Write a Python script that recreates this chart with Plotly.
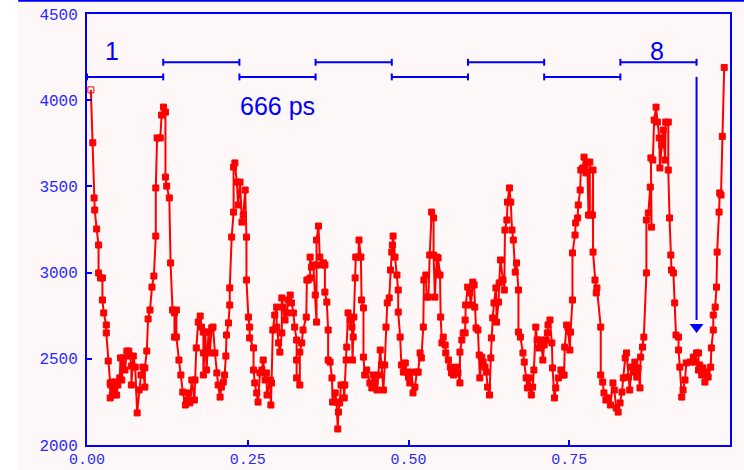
import plotly.graph_objects as go

# ---- data (normalised time, counts) ----
x_vals = [
 0.006,0.009,0.011,0.012,0.015,0.018,0.018,0.021,0.024,0.024,0.026,0.030,0.030,0.033,0.036,0.036,0.037,0.040,0.040,0.042,
 0.044,0.046,0.048,0.051,0.052,0.054,0.056,0.059,0.062,0.065,0.067,0.069,0.069,0.072,0.075,0.078,0.081,0.084,0.087,0.090,
 0.090,0.093,0.095,0.098,0.101,0.104,0.107,0.107,0.109,0.114,0.116,0.119,0.122,0.122,0.124,0.128,0.130,0.133,0.136,0.136,
 0.139,0.139,0.143,0.146,0.149,0.153,0.155,0.158,0.160,0.163,0.167,0.168,0.170,0.173,0.176,0.178,0.181,0.181,0.181,0.184,
 0.186,0.189,0.191,0.194,0.196,0.199,0.202,0.204,0.207,0.209,0.212,0.214,0.216,0.217,0.220,0.222,0.222,0.225,0.228,0.228,
 0.230,0.233,0.235,0.238,0.241,0.243,0.246,0.248,0.248,0.251,0.253,0.253,0.259,0.259,0.261,0.264,0.266,0.269,0.272,0.274,
 0.277,0.279,0.280,0.285,0.286,0.287,0.289,0.292,0.295,0.295,0.298,0.300,0.303,0.303,0.305,0.308,0.311,0.313,0.316,0.318,
 0.321,0.323,0.326,0.326,0.326,0.331,0.331,0.334,0.336,0.341,0.342,0.344,0.347,0.347,0.349,0.352,0.355,0.357,0.357,0.357,
 0.360,0.362,0.365,0.368,0.370,0.370,0.373,0.375,0.375,0.378,0.381,0.382,0.386,0.388,0.390,0.391,0.393,0.395,0.399,0.400,
 0.401,0.403,0.404,0.406,0.409,0.412,0.413,0.414,0.415,0.417,0.418,0.422,0.423,0.426,0.427,0.430,0.430,0.432,0.435,0.440,
 0.443,0.445,0.448,0.451,0.453,0.456,0.458,0.461,0.463,0.465,0.467,0.470,0.472,0.474,0.475,0.476,0.479,0.482,0.484,0.484,
 0.487,0.489,0.492,0.495,0.497,0.500,0.502,0.505,0.507,0.510,0.513,0.515,0.518,0.520,0.523,0.524,0.527,0.528,0.531,0.533,
 0.536,0.539,0.539,0.541,0.544,0.545,0.546,0.549,0.550,0.552,0.554,0.557,0.558,0.562,0.565,0.567,0.570,0.572,0.575,0.577,
 0.580,0.580,0.583,0.585,0.588,0.588,0.589,0.592,0.595,0.597,0.600,0.602,0.603,0.605,0.608,0.610,0.611,0.614,0.616,0.619,
 0.621,0.623,0.626,0.628,0.629,0.631,0.633,0.636,0.637,0.640,0.641,0.643,0.647,0.649,0.650,0.653,0.654,0.657,0.659,0.661,
 0.663,0.666,0.668,0.671,0.671,0.674,0.678,0.680,0.683,0.685,0.688,0.691,0.693,0.695,0.698,0.700,0.703,0.706,0.709,0.711,
 0.714,0.716,0.717,0.720,0.723,0.724,0.727,0.729,0.733,0.737,0.740,0.742,0.743,0.746,0.748,0.751,0.752,0.755,0.755,0.759,
 0.760,0.763,0.764,0.767,0.768,0.771,0.773,0.776,0.778,0.780,0.782,0.782,0.786,0.787,0.787,0.790,0.792,0.793,0.799,0.799,
 0.802,0.804,0.807,0.811,0.814,0.818,0.820,0.823,0.826,0.829,0.832,0.834,0.837,0.839,0.842,0.844,0.847,0.850,0.852,0.855,
 0.857,0.860,0.861,0.864,0.866,0.870,0.870,0.873,0.876,0.878,0.877,0.880,0.882,0.885,0.887,0.890,0.891,0.894,0.896,0.899,
 0.900,0.904,0.904,0.906,0.908,0.909,0.912,0.914,0.916,0.920,0.920,0.922,0.925,0.927,0.930,0.932,0.938,0.943,0.946,0.948,
 0.951,0.951,0.953,0.956,0.958,0.961,0.964,0.966,0.970,0.971,0.974,0.974,0.977,0.979,0.980,0.983,0.984,0.986,0.988,0.991,
]
y_vals = [
 4060,3753,3433,3363,3253,3160,2998,2969,2969,2841,2766,2696,2650,2487,2360,2273,2348,2290,2365,2319,
 2365,2290,2348,2389,2505,2377,2505,2435,2545,2545,2516,2458,2348,2516,2452,2186,2319,2406,2452,2336,
 2447,2545,2731,2783,2916,2980,3212,3491,3781,3781,3914,3960,3931,3554,3502,3433,3056,2783,2766,2626,
 2783,2626,2493,2406,2307,2232,2261,2302,2244,2377,2261,2377,2563,2713,2748,2684,2655,2534,2406,2655,
 2435,2655,2534,2679,2684,2534,2418,2348,2278,2336,2365,2406,2516,2638,2708,2812,2911,3206,3351,3612,
 3636,3525,3392,3525,3293,3334,3479,3206,2957,2742,2684,2621,2563,2435,2360,2302,2249,2418,2435,2493,
 2377,2418,2290,2377,2232,2360,2667,2754,2800,2684,2592,2539,2650,2853,2800,2725,2766,2841,2870,2824,
 2766,2684,2609,2493,2389,2348,2539,2592,2667,2742,2957,2957,2969,3090,3032,3044,2870,2713,3044,3189,
 3270,3090,3044,3056,3044,2887,2829,2667,2493,2481,2389,2249,2302,2249,2093,2191,2244,2348,2348,2273,
 2348,2493,2568,2766,2725,2684,2493,2626,2742,2969,3090,3090,3189,3090,2841,2795,2510,2406,2435,2360,
 2331,2406,2365,2319,2406,2551,2464,2319,2464,2684,2824,2853,3015,3119,3160,3212,3090,2986,2899,2771,
 2626,2464,2423,2476,2423,2394,2360,2423,2302,2336,2423,2423,2534,2505,2684,2957,2986,2858,2858,3102,
 3351,3317,3102,2858,3090,2998,3085,2986,2742,2592,2626,2580,2534,2493,2452,2418,2406,2435,2452,2418,
 2360,2539,2609,2650,2650,2725,2812,2916,2882,2812,2945,2928,2800,2679,2667,2522,2389,2510,2481,2452,
 2423,2336,2290,2505,2621,2737,2824,2911,2713,2829,2940,3073,2957,2899,3247,3305,3409,3491,3409,3247,
 3189,3003,3056,2899,2655,2626,2534,2481,2389,2331,2389,2290,2336,2435,2684,2609,2563,2609,2493,2580,
 2609,2650,2696,2725,2592,2447,2273,2331,2389,2435,2406,2406,2568,2696,2679,2551,2655,2841,3114,3218,
 3288,3317,3392,3479,3595,3607,3670,3578,3641,3334,3641,3334,3334,3595,3119,2957,2882,2911,2684,2406,
 2365,2302,2261,2273,2232,2360,2319,2215,2191,2244,2307,2389,2505,2534,2394,2319,2452,2423,2481,2394,
 2447,2331,2510,2568,2626,2998,3305,3346,3496,3264,3665,3653,3885,3960,3873,3781,3607,3740,3827,3653,
 3873,3873,3595,3317,3102,3015,2998,2824,2638,2626,2551,2452,2278,2319,2377,2476,2481,2510,2481,2534,
 2534,2435,2464,2406,2447,2365,2423,2394,2452,2563,2667,2754,2800,2916,3119,3351,3462,3450,3790,4190,
]

x_ticks = [0, 0.25, 0.5, 0.75, 1.0]
x_tick_labels = ["0.00", "0.25", "0.50", "0.75", "1.00"]
y_ticks = [2000, 2500, 3000, 3500, 4000, 4500]
y_tick_labels = ["2000", "2500", "3000", "3500", "4000", "4500"]

# period brackets (8 periods of 666 ps)
period_edges = [0.0, 0.1185, 0.237, 0.3555, 0.474, 0.5925, 0.711, 0.8295, 0.948]
bracket_levels = [4135, 4220]
arrow_tip = 2685
label_first = "1"
label_last = "8"
label_period = "666 ps"

BLUE = "#0000ff"
RED = "#ff0000"
BG = "#fdf8f7"

fig = go.Figure()

symbols = ["square-open"] + ["square"] * (len(x_vals) - 1)
fig.add_trace(go.Scatter(
    x=x_vals, y=y_vals, mode="lines+markers",
    line=dict(color=RED, width=2),
    marker=dict(symbol=symbols, size=6, color=RED, line=dict(color=RED, width=1)),
    showlegend=False, hoverinfo="skip",
))

shapes = []
cap = 20
for i in range(8):
    lvl = bracket_levels[i % 2]
    a, b = period_edges[i], period_edges[i + 1]
    shapes.append(dict(type="line", xref="x", yref="y", x0=a, x1=b, y0=lvl, y1=lvl,
                       line=dict(color=BLUE, width=2)))
    for e in (a, b):
        shapes.append(dict(type="line", xref="x", yref="y", x0=e, x1=e, y0=lvl - cap, y1=lvl + cap,
                           line=dict(color=BLUE, width=2)))

# arrow from end of period 8 down to the trace
shapes.append(dict(type="line", xref="x", yref="y", x0=period_edges[-1], x1=period_edges[-1],
                   y0=bracket_levels[0], y1=arrow_tip + 40, line=dict(color=BLUE, width=2)))
fig.add_trace(go.Scatter(x=[period_edges[-1]], y=[arrow_tip], mode="markers",
                         marker=dict(symbol="triangle-down", size=12, color=BLUE),
                         showlegend=False, hoverinfo="skip"))

# left white strip and top border line of the original picture
shapes.append(dict(type="rect", xref="paper", yref="paper", x0=-0.2, x1=-0.107, y0=-0.1, y1=1.1,
                   fillcolor="white", line=dict(width=0), layer="below"))
shapes.append(dict(type="line", xref="paper", yref="paper", x0=-0.107, x1=1.05, y0=1.031, y1=1.031,
                   line=dict(color=BLUE, width=2)))

fig.update_layout(shapes=shapes)

font_txt = dict(family="Liberation Sans, Arial, sans-serif", size=25, color=BLUE)
fig.add_annotation(x=0.039, y=4285, text=label_first, showarrow=False, font=font_txt)
fig.add_annotation(x=0.886, y=4285, text=label_last, showarrow=False, font=font_txt)
fig.add_annotation(x=0.297, y=3966, text=label_period, showarrow=False, font=font_txt)

x_tick_font = dict(family="Liberation Mono, DejaVu Sans Mono, monospace", size=15, color="#2a2aff")
y_tick_font = dict(family="Liberation Mono, DejaVu Sans Mono, monospace", size=16, color="#2a2aff")
fig.update_xaxes(range=[0, 1], tickvals=x_ticks, ticktext=x_tick_labels, showgrid=False, zeroline=False,
                 showline=True, linecolor=BLUE, linewidth=2, mirror=True, automargin=False,
                 ticks="inside", ticklen=5, tickwidth=2, tickcolor=BLUE, tickfont=x_tick_font,
                 ticklabelstandoff=-1)
fig.update_yaxes(range=[2000, 4500], tickvals=y_ticks, ticktext=y_tick_labels, showgrid=False, zeroline=False,
                 showline=True, linecolor=BLUE, linewidth=2, mirror=True, automargin=False,
                 ticks="inside", ticklen=5, tickwidth=2, tickcolor=BLUE, tickfont=y_tick_font,
                 ticklabelstandoff=4)

fig.update_layout(width=744, height=470, margin=dict(l=87, r=14, t=14, b=25, autoexpand=False),
                  paper_bgcolor=BG, plot_bgcolor=BG)

fig.write_html("out.html", config={"displayModeBar": False},
               post_script="document.body.style.margin='0';document.body.style.overflow='hidden';")
